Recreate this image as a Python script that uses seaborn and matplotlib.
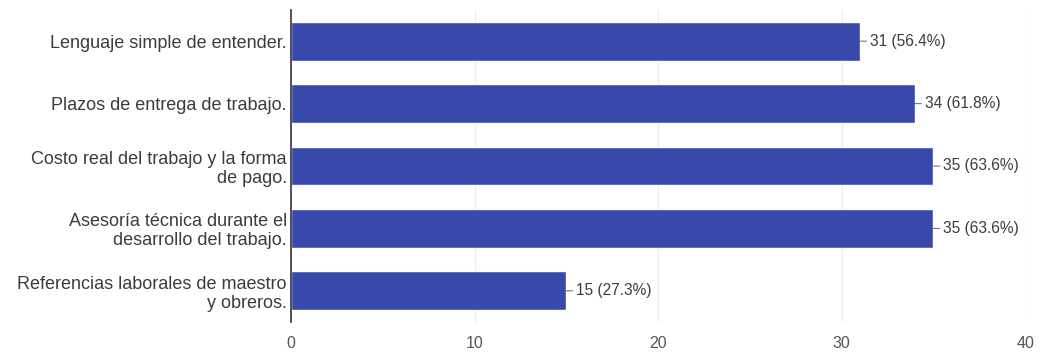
import matplotlib
matplotlib.use("Agg")
import matplotlib.pyplot as plt
import seaborn as sns
import pandas as pd

categories = [
    "Lenguaje simple de entender.",
    "Plazos de entrega de trabajo.",
    "Costo real del trabajo y la forma\nde pago.",
    "Asesoría técnica durante el\ndesarrollo del trabajo.",
    "Referencias laborales de maestro\ny obreros.",
]
counts = [31, 34, 35, 35, 15]
percents = [56.4, 61.8, 63.6, 63.6, 27.3]
x_ticks = [0, 10, 20, 30, 40]

sns.set_theme(style="white")
plt.rcParams["font.family"] = ["Liberation Sans", "DejaVu Sans"]

df = pd.DataFrame({"opcion": categories, "n": counts})

fig = plt.figure(figsize=(10.45, 3.54), dpi=100)
ax = fig.add_axes([0.2785, 0.0904, 0.7025, 0.8814])

sns.barplot(data=df, y="opcion", x="n", orient="h", color="#3949ab",
            saturation=1, width=0.62, ax=ax)

ax.set_xlim(0, 40)
ax.set_ylim(4.5, -0.5)
ax.set_xticks(x_ticks)
ax.set_xticklabels([str(t) for t in x_ticks])
ax.set_xlabel("")
ax.set_ylabel("")

for t in x_ticks[1:]:
    ax.axvline(t, color="#ececec", lw=0.9, zorder=0)

for s in ["top", "right", "bottom"]:
    ax.spines[s].set_visible(False)
ax.spines["left"].set_color("#333333")
ax.spines["left"].set_linewidth(1.2)

ax.tick_params(axis="y", length=0, pad=3, labelsize=13, labelcolor="#3c3c3c")
ax.tick_params(axis="x", length=0, pad=10, labelsize=11.5, labelcolor="#555555")
for lbl in ax.get_yticklabels():
    lbl.set_multialignment("right")
    lbl.set_linespacing(1.15)

for i, (c, p) in enumerate(zip(counts, percents)):
    ax.annotate(f"{c} ({p}%)", xy=(c, i), xytext=(7, 0),
                textcoords="offset points", ha="left", va="center",
                fontsize=11.2, color="#3c3c3c",
                arrowprops=dict(arrowstyle="-", color="#777777", lw=0.8,
                                shrinkA=0, shrinkB=0))

fig.savefig("out.png", dpi=100, facecolor="white")
